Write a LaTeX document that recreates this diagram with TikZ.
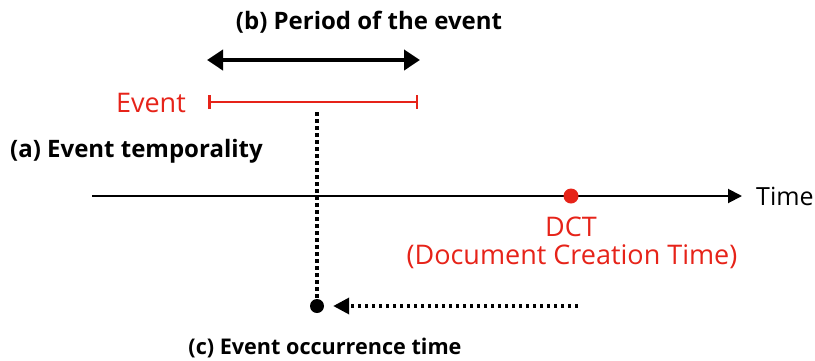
\documentclass[tikz,border=0pt]{standalone}
\usepackage{fontspec}
\setmainfont{Open Sans}
\usetikzlibrary{arrows.meta}
\definecolor{evred}{RGB}{230,35,25}
\begin{document}
\begin{tikzpicture}[x=1pt,y=-1pt,
  lbl/.style={font=\fontsize{24}{28}\selectfont\bfseries, inner sep=0pt},
  txt/.style={font=\fontsize{27}{30}\selectfont, inner sep=0pt},
  dotline/.style={line width=3.5pt, dash pattern=on 3.5pt off 3.5pt}]
\useasboundingbox (0,0) rectangle (815,360);
% (b)
\node[lbl] (b) at (369,22) {(b) Period of the event};
\coordinate (pl) at (207,60);
\coordinate (pr) at (420,60);
\draw[line width=4pt, {Triangle[length=16pt,width=20pt]}-{Triangle[length=16pt,width=20pt]}] (pl) -- (pr);
% event interval
\node[txt, text=evred, anchor=east] (ev) at (186,103) {Event};
\coordinate (el) at (208,102);
\coordinate (er) at (418,102);
\draw[evred, line width=2.5pt, {Bar[width=14pt]}-{Bar[width=14pt]}] (el) -- (er);
% (a)
\node[lbl, anchor=west] (a) at (10,151) {(a) Event temporality};
% time axis
\coordinate (t0) at (92,196);
\coordinate (t1) at (742,196);
\draw[line width=2pt, -{Triangle[length=14pt,width=14pt]}] (t0) -- (t1);
\node[txt, font=\fontsize{25}{30}\selectfont, anchor=west] (time) at (756,196) {Time};
\fill[evred] (571,196) circle (7.5) coordinate (dct);
\node[txt, text=evred] (dctl) at (571,227) {DCT};
\node[txt, text=evred] (dctf) at (572,257) {(Document Creation Time)};
% occurrence point
\node[circle, fill=black, minimum size=14pt, inner sep=0pt] (occ) at (317,306) {};
\coordinate (vtop) at (317,112);
\draw[dotline] (vtop) -- (occ.north);
\coordinate (hs) at (578,306);
\draw[dotline, -{Triangle[length=16pt,width=16pt]}] (hs) -- ([xshift=9pt]occ.east);
\node[lbl, font=\fontsize{21.6}{26}\selectfont\bfseries] (c) at (325,348) {(c) Event occurrence time};
\end{tikzpicture}
\end{document}
